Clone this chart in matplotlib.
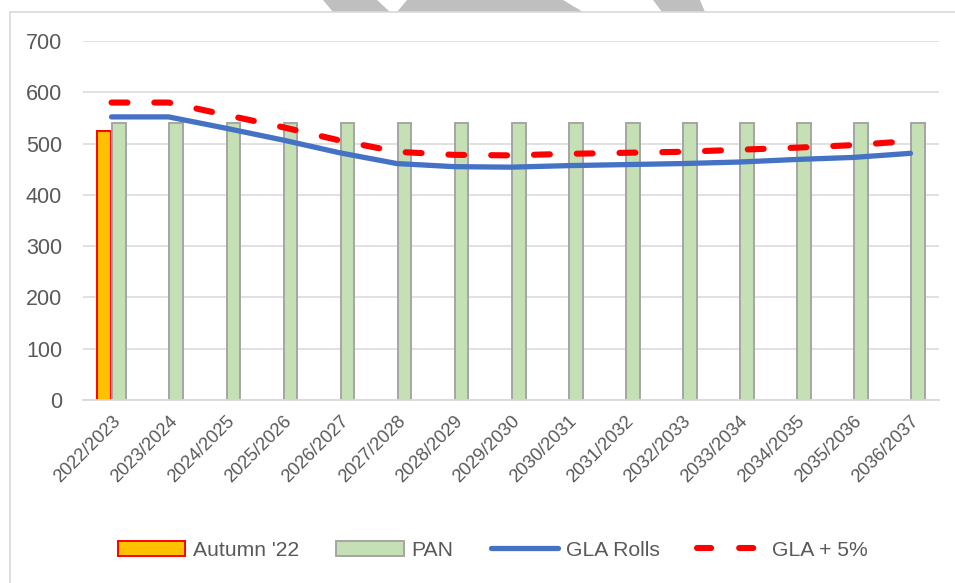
import numpy as np
import matplotlib
matplotlib.use("Agg")
import matplotlib.pyplot as plt
from matplotlib.patches import Polygon, Patch
from matplotlib.lines import Line2D

plt.rcParams["font.family"] = ["Liberation Sans", "DejaVu Sans"]

years = ["2022/2023", "2023/2024", "2024/2025", "2025/2026", "2026/2027",
         "2027/2028", "2028/2029", "2029/2030", "2030/2031", "2031/2032",
         "2032/2033", "2033/2034", "2034/2035", "2035/2036", "2036/2037"]
autumn_22 = [525]
pan = [540] * 15
gla_rolls = [552, 552, 530, 507, 482, 461, 455, 454, 457, 459,
             461, 464, 469, 473, 481]
gla_plus_5 = [580, 580, 556, 532, 506, 484, 478, 477, 480, 482,
              484, 488, 492, 497, 505]

W, H = 955, 583
TEXT = "#595959"
GRID = "#D9D9D9"
ORANGE, RED, GREEN, GREY_EDGE, BLUE = "#FFC000", "#FF0000", "#C5E0B4", "#A5A5A5", "#4472C4"

fig = plt.figure(figsize=(W / 100, H / 100), dpi=100)
ax = fig.add_axes([83 / W, 1 - 400 / H, (939 - 83) / W, (400 - 41) / H])

x = np.arange(len(years))
bw = 0.24
ax.bar(x[:len(autumn_22)] - 0.135, autumn_22, width=bw, color=ORANGE,
       edgecolor=RED, linewidth=1.4, zorder=2)
ax.bar(x + 0.135, pan, width=bw, color=GREEN, edgecolor=GREY_EDGE,
       linewidth=1.4, zorder=2)
ax.plot(x, gla_rolls, color=BLUE, linewidth=3.8, zorder=3,
        solid_capstyle="round", solid_joinstyle="round")
ax.plot(x, gla_plus_5, color=RED, linewidth=4.4, zorder=4,
        dashes=(2.6, 4.4), dash_capstyle="round")

ax.set_xlim(-0.5, len(years) - 0.5)
ax.set_ylim(0, 700)
ax.set_yticks(range(0, 701, 100))
ax.grid(axis="y", color=GRID, linewidth=1.1, zorder=0)
ax.set_axisbelow(True)
for side in ("left", "right", "top"):
    ax.spines[side].set_visible(False)
ax.spines["bottom"].set_color(GRID)
ax.spines["bottom"].set_linewidth(1.3)
ax.tick_params(axis="y", length=0, pad=15, labelsize=15.5, labelcolor=TEXT)
ax.tick_params(axis="x", length=0, pad=9, labelcolor=TEXT)
ax.set_xticks(x)
ax.set_xticklabels(years, rotation=45, ha="right", va="top",
                   rotation_mode="anchor", fontsize=13.2)

# legend proxies so the handles look like the plotted series
handles = [
    Patch(facecolor=ORANGE, edgecolor=RED, linewidth=1.4),
    Patch(facecolor=GREEN, edgecolor=GREY_EDGE, linewidth=1.4),
    Line2D([], [], color=BLUE, linewidth=3.8, solid_capstyle="round"),
    Line2D([], [], color=RED, linewidth=4.4, dashes=(2.3, 4.6),
           dash_capstyle="round"),
]
labels = ["Autumn '22", "PAN", "GLA Rolls", "GLA + 5%"]
fig.legend(handles, labels, loc="center", bbox_to_anchor=(0.516, 1 - 550 / H),
           ncol=4, frameon=False, fontsize=15.2, labelcolor=TEXT,
           handlelength=3.2, handletextpad=0.37, columnspacing=1.75)

# chart frame
fig.add_artist(Line2D([10 / W, 10 / W], [0, 1 - 12 / H], color=GRID,
                      linewidth=1.2, transform=fig.transFigure))
fig.add_artist(Line2D([10 / W, 1], [1 - 12 / H, 1 - 12 / H], color=GRID,
                      linewidth=1.2, transform=fig.transFigure))

# grey shapes above the frame
shapes = [
    [(323, 0), (377, 0), (390, 12), (333, 12)],
    [(397, 12), (407, 0), (563, 0), (583, 12)],
    [(653, 0), (700, 0), (705, 12), (662, 12)],
]
for pts in shapes:
    fig.add_artist(Polygon([(px / W, 1 - py / H) for px, py in pts],
                           closed=True, facecolor="#BFBFBF", edgecolor="none",
                           transform=fig.transFigure))

fig.savefig("out.png", dpi=100)
